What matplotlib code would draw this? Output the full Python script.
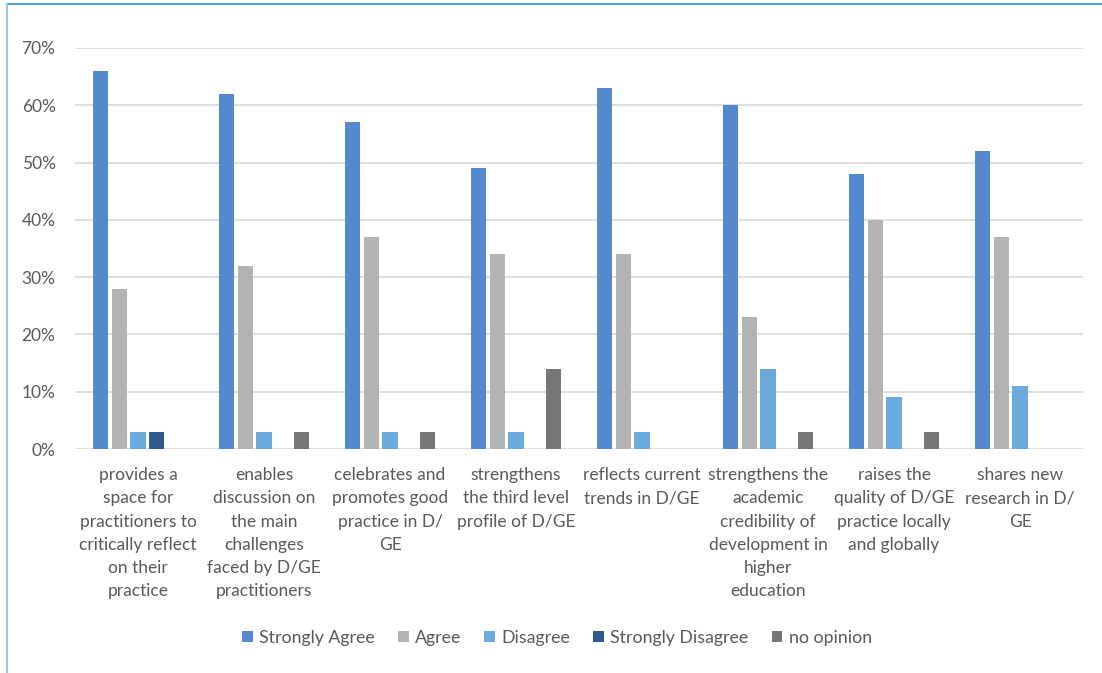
import numpy as np
import matplotlib.pyplot as plt
from matplotlib.lines import Line2D

plt.rcParams['font.family'] = ['Lato', 'DejaVu Sans']

# Categorías y respuestas (porcentaje)
categorias = [
    "provides a\nspace for\npractitioners to\ncritically reflect\non their\npractice",
    "enables\ndiscussion on\nthe main\nchallenges\nfaced by D/GE\npractitioners",
    "celebrates and\npromotes good\npractice in D/\nGE",
    "strengthens\nthe third level\nprofile of D/GE",
    "reflects current\ntrends in D/GE",
    "strengthens the\nacademic\ncredibility of\ndevelopment in\nhigher\neducation",
    "raises the\nquality of D/GE\npractice locally\nand globally",
    "shares new\nresearch in D/\nGE",
]
series = ["Strongly Agree", "Agree", "Disagree", "Strongly Disagree", "no opinion"]
strongly_agree = [66, 62, 57, 49, 63, 60, 48, 52]
agree = [28, 32, 37, 34, 34, 23, 40, 37]
disagree = [3, 3, 3, 3, 3, 14, 9, 11]
strongly_disagree = [3, 0, 0, 0, 0, 0, 0, 0]
no_opinion = [0, 3, 3, 14, 0, 3, 3, 0]
valores = [strongly_agree, agree, disagree, strongly_disagree, no_opinion]
colores = ['#5589cf', '#b3b3b3', '#6aaadd', '#2e5b8f', '#767676']

fig = plt.figure(figsize=(11.02, 6.73), dpi=100)
ax = fig.add_axes([75 / 1102, 1 - 449 / 673, 1008 / 1102, 401 / 673])

x = np.arange(len(categorias))
paso = 0.15
ancho = 0.12
for i, (nombre, vals, c) in enumerate(zip(series, valores, colores)):
    pos = x + (i - 2) * paso
    ax.bar(pos, vals, width=ancho, color=c, label=nombre, zorder=3)

ax.set_xlim(-0.5, len(categorias) - 0.5)
ax.set_ylim(0, 70)
ax.set_yticks(range(0, 71, 10))
ax.set_yticklabels([f"{v}%" for v in range(0, 71, 10)])
ax.set_xticks(x)
ax.set_xticklabels(categorias, linespacing=1.56)
ax.grid(axis='y', color='#d9d9d9', linewidth=1.2, zorder=0)
for s in ax.spines.values():
    s.set_visible(False)
ax.tick_params(axis='both', length=0, colors='#595959', labelsize=12.5)
ax.tick_params(axis='x', pad=13)
ax.tick_params(axis='y', pad=14)

ax.legend(loc='center', bbox_to_anchor=(557 / 1102, 1 - 638 / 673),
          bbox_transform=fig.transFigure, ncol=5, frameon=False,
          fontsize=12.8, labelcolor='#595959', handlelength=0.6, handleheight=0.6,
          handletextpad=0.35, columnspacing=1.3)

# Borde del gráfico
fig.add_artist(Line2D([7 / 1102, 1], [1 - 4 / 673, 1 - 4 / 673], color='#5b9bd5', lw=1.5,
                      transform=fig.transFigure))
fig.add_artist(Line2D([7 / 1102, 7 / 1102], [0, 1 - 4 / 673], color='#9dc3e6', lw=1.5,
                      transform=fig.transFigure))

plt.savefig('out.png', dpi=100)
